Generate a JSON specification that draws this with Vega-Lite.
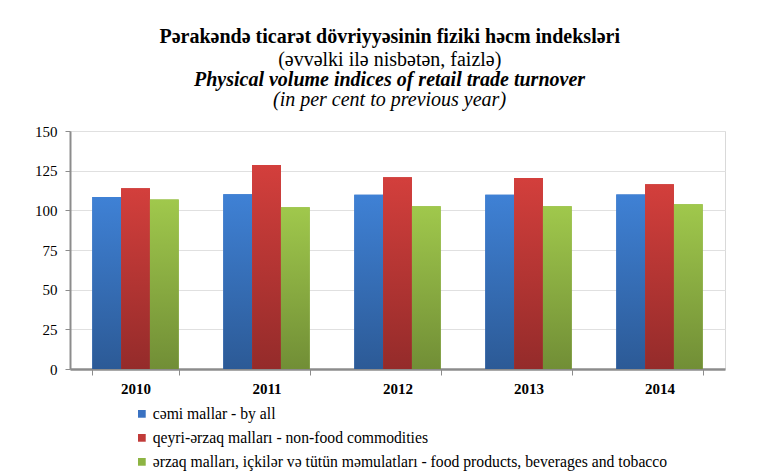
{
  "$schema": "https://vega.github.io/schema/vega-lite/v6.json",
  "background": "white",
  "padding": {"left": 34, "top": 26, "right": 10, "bottom": 5},
  "title": {
    "text": "Pərakəndə ticarət dövriyyəsinin fiziki həcm indeksləri",
    "subtitle": "(əvvəlki ilə nisbətən, faizlə)",
    "font": "Times New Roman, Liberation Serif, serif",
    "fontSize": 20,
    "fontWeight": "bold",
    "color": "#000",
    "subtitleFont": "Times New Roman, Liberation Serif, serif",
    "subtitleFontSize": 20,
    "subtitleColor": "#000",
    "subtitlePadding": 3,
    "anchor": "middle",
    "dx": 10,
    "offset": 0
  },
  "datasets": {
    "rows": [
      {"year": "2010", "series": "cəmi mallar - by all", "value": 108.4},
      {"year": "2010", "series": "qeyri-ərzaq malları - non-food commodities", "value": 113.9},
      {"year": "2010", "series": "ərzaq malları, içkilər və tütün məmulatları - food products, beverages and tobacco", "value": 106.8},
      {"year": "2011", "series": "cəmi mallar - by all", "value": 110.1},
      {"year": "2011", "series": "qeyri-ərzaq malları - non-food commodities", "value": 128.5},
      {"year": "2011", "series": "ərzaq malları, içkilər və tütün məmulatları - food products, beverages and tobacco", "value": 101.9},
      {"year": "2012", "series": "cəmi mallar - by all", "value": 109.8},
      {"year": "2012", "series": "qeyri-ərzaq malları - non-food commodities", "value": 120.9},
      {"year": "2012", "series": "ərzaq malları, içkilər və tütün məmulatları - food products, beverages and tobacco", "value": 102.5},
      {"year": "2013", "series": "cəmi mallar - by all", "value": 109.9},
      {"year": "2013", "series": "qeyri-ərzaq malları - non-food commodities", "value": 120.3},
      {"year": "2013", "series": "ərzaq malları, içkilər və tütün məmulatları - food products, beverages and tobacco", "value": 102.5},
      {"year": "2014", "series": "cəmi mallar - by all", "value": 110.0},
      {"year": "2014", "series": "qeyri-ərzaq malları - non-food commodities", "value": 116.5},
      {"year": "2014", "series": "ərzaq malları, içkilər və tütün məmulatları - food products, beverages and tobacco", "value": 103.8}
    ]
  },
  "vconcat": [
    {
      "title": {
        "text": "Physical volume indices of retail trade turnover",
        "subtitle": "(in per cent to previous year)",
        "font": "Times New Roman, Liberation Serif, serif",
        "fontSize": 20,
        "fontWeight": "bold",
        "fontStyle": "italic",
        "color": "#000",
        "subtitleFont": "Times New Roman, Liberation Serif, serif",
        "subtitleFontSize": 20,
        "subtitleFontStyle": "italic",
        "subtitleColor": "#000",
        "subtitlePadding": 0,
        "anchor": "middle",
        "dx": -8,
        "offset": 14
      },
      "width": 655,
      "height": 238,
      "data": {"name": "rows"},
      "encoding": {
        "x": {
          "field": "year",
          "type": "nominal",
          "title": null,
          "scale": {"paddingInner": 0.34, "paddingOuter": 0.17},
          "axis": {
            "labelAngle": 0,
            "labelFont": "Times New Roman, Liberation Serif, serif",
            "labelFontSize": 15,
            "labelFontWeight": "bold",
            "labelColor": "#000",
            "labelPadding": 6,
            "domainColor": "#8c8c8c",
            "domainWidth": 2.5,
            "tickColor": "#8c8c8c",
            "tickWidth": 1,
            "tickSize": 6,
            "tickBand": "extent",
            "grid": false
          }
        },
        "xOffset": {
          "field": "series",
          "type": "nominal",
          "sort": null,
          "scale": {
            "domain": [
              "cəmi mallar - by all",
              "qeyri-ərzaq malları - non-food commodities",
              "ərzaq malları, içkilər və tütün məmulatları - food products, beverages and tobacco"
            ],
            "paddingInner": 0,
            "paddingOuter": 0
          }
        },
        "y": {
          "field": "value",
          "type": "quantitative",
          "title": null,
          "scale": {"domain": [0, 150], "nice": false},
          "axis": {
            "values": [0, 25, 50, 75, 100, 125, 150],
            "labelFont": "Times New Roman, Liberation Serif, serif",
            "labelFontSize": 15,
            "labelColor": "#000",
            "labelPadding": 8,
            "domainColor": "#8c8c8c",
            "domainWidth": 2,
            "tickColor": "#8c8c8c",
            "tickSize": 5,
            "gridColor": "#e0e0e0",
            "gridWidth": 1
          }
        }
      },
      "layer": [
        {
          "mark": {"type": "bar"},
          "encoding": {
            "color": {
              "field": "series",
              "type": "nominal",
              "sort": null,
              "scale": {
                "domain": [
                  "cəmi mallar - by all",
                  "qeyri-ərzaq malları - non-food commodities",
                  "ərzaq malları, içkilər və tütün məmulatları - food products, beverages and tobacco"
                ],
                "range": ["#3A72C2", "#C13B39", "#8DB443"]
              },
              "legend": {
                "title": null,
                "orient": "none",
                "legendX": 64,
                "legendY": 275,
                "direction": "vertical",
                "symbolType": "square",
                "symbolSize": 60,
                "symbolStrokeWidth": 0,
                "labelFont": "Times New Roman, Liberation Serif, serif",
                "labelFontSize": 15.7,
                "labelColor": "#000",
                "labelOffset": 3,
                "rowPadding": 7,
                "labelLimit": 700
              }
            }
          }
        },
        {
          "mark": {"type": "bar"},
          "encoding": {
            "color": {
              "condition": [
                {
                  "test": "datum.series === 'cəmi mallar - by all'",
                  "value": {"gradient": "linear", "x1": 0, "y1": 0, "x2": 0, "y2": 1,
                    "stops": [{"offset": 0, "color": "#3F81D5"}, {"offset": 1, "color": "#2C5A96"}]}
                },
                {
                  "test": "datum.series === 'qeyri-ərzaq malları - non-food commodities'",
                  "value": {"gradient": "linear", "x1": 0, "y1": 0, "x2": 0, "y2": 1,
                    "stops": [{"offset": 0, "color": "#D33F3C"}, {"offset": 1, "color": "#942B2A"}]}
                }
              ],
              "value": {"gradient": "linear", "x1": 0, "y1": 0, "x2": 0, "y2": 1,
                "stops": [{"offset": 0, "color": "#A0C84C"}, {"offset": 1, "color": "#718E36"}]}
            }
          }
        }
      ]
    }
  ],
  "config": {
    "view": {"stroke": "#d9d9d9"},
    "font": "Times New Roman, Liberation Serif, serif"
  }
}
